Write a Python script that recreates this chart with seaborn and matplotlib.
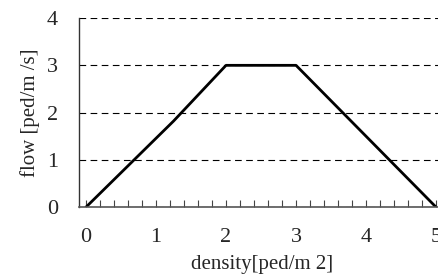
import matplotlib
matplotlib.use("Agg")
import matplotlib.pyplot as plt
import seaborn as sns
import pandas as pd
from matplotlib.ticker import MultipleLocator

density = [0, 1.25, 2, 3, 3.8, 5]
flow = [0, 1.82, 3, 3, 1.8, 0]
xticks = [0, 1, 2, 3, 4, 5]
yticks = [0, 1, 2, 3, 4]

sns.set_style("white")
plt.rcParams['font.family'] = ['Liberation Serif', 'DejaVu Serif']

df = pd.DataFrame({"density": density, "flow": flow})

fig = plt.figure(figsize=(4.39, 2.78), dpi=100)
ax = fig.add_axes([0.18, 0.255, 0.818, 0.68])
sns.lineplot(data=df, x="density", y="flow", ax=ax, color="black", linewidth=2, sort=False)

ax.set_xlim(-0.1, 5.03)
ax.set_ylim(0, 4)
ax.set_yticks(yticks)
ax.set_xticks(xticks)
ax.xaxis.set_minor_locator(MultipleLocator(0.2))
ax.yaxis.grid(True, linestyle=(0, (6, 4)), color="black", linewidth=0.8)
ax.xaxis.grid(False)
ax.set_axisbelow(True)
for s in ["top", "right"]:
    ax.spines[s].set_visible(False)
ax.spines["left"].set_color("#333333")
ax.spines["bottom"].set_color("#555555")
ax.spines["left"].set_linewidth(1)
ax.spines["bottom"].set_linewidth(1.2)
ax.tick_params(axis="x", which="both", bottom=True, direction="in", length=5, color="#444444",
               width=0.8, pad=15, labelsize=16)
ax.tick_params(axis="y", which="both", left=False, length=0, pad=15, labelsize=16)
ax.set_xlabel("density[ped/m 2]", fontsize=15)
ax.xaxis.set_label_coords(0.51, -0.255)
ax.set_ylabel("flow [ped/m /s]", fontsize=15, labelpad=5)

fig.savefig("out.png", dpi=100)
